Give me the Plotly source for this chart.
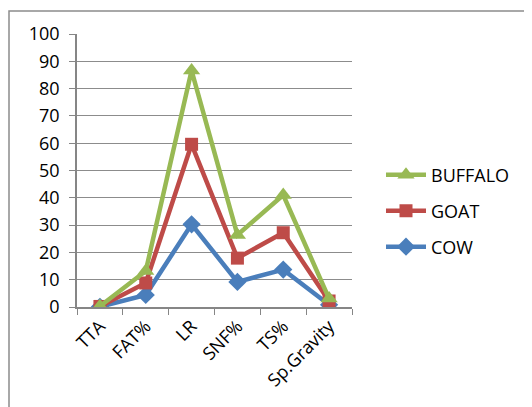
import plotly.graph_objects as go

categories = ["TTA", "FAT%", "LR", "SNF%", "TS%", "Sp.Gravity"]
cow = [0.1, 4.4, 30.3, 9.2, 13.7, 0.8]
goat = [0.2, 8.8, 59.6, 17.9, 27.2, 2.2]
buffalo = [0.3, 13.2, 86.6, 26.4, 41.0, 3.1]

series = [
    ("COW", cow, "#4A7EBB", "diamond", 14, "legend3"),
    ("GOAT", goat, "#BE4B48", "square", 13, "legend2"),
    ("BUFFALO", buffalo, "#98B954", "triangle-up", 15, "legend"),
]

fig = go.Figure()
for name, vals, color, sym, sz, lg in series:
    fig.add_trace(go.Scatter(
        x=categories, y=vals, name=name, mode="lines+markers",
        line=dict(color=color, width=4.5),
        marker=dict(symbol=sym, size=sz, color=color),
        legend=lg,
    ))

OFF = 8  # page body margin
W, H = 532 - OFF, 407 - OFF
L, R, T, B = 77 - OFF, 352 - OFF, 34 - OFF, 307 - OFF
pw, ph = R - L, B - T

def leg(yc):
    return dict(x=(381 - OFF - L) / pw, y=(B - (yc - OFF)) / ph,
                xanchor="left", yanchor="middle", bgcolor="rgba(0,0,0,0)",
                font=dict(size=18), itemwidth=40)

fig.update_layout(
    width=W, height=H,
    margin=dict(l=L, r=W - R, t=T, b=H - B, pad=0),
    paper_bgcolor="white", plot_bgcolor="white",
    font=dict(family="Open Sans, Liberation Sans, sans-serif", size=18, color="black"),
    showlegend=True,
    legend=leg(175), legend2=leg(211), legend3=leg(247),
    xaxis=dict(showgrid=False, showline=True, linecolor="#868686", linewidth=1.5,
               ticks="outside", tickson="boundaries", ticklen=6, tickcolor="#868686",
               tickangle=-45, tickfont=dict(size=18), range=[-0.5, 5.5]),
    yaxis=dict(range=[0, 100], dtick=10, showgrid=True, gridcolor="#8C8C8C", gridwidth=1,
               showline=True, linecolor="#868686", linewidth=1.5, zeroline=False,
               ticks="outside", ticklen=6, tickcolor="#868686", tickfont=dict(size=18),
               ticklabelstandoff=6),
    shapes=[dict(type="rect", xref="paper", yref="paper",
                 x0=(9 - OFF - L) / pw, x1=(560 - L) / pw,
                 y0=(B - 430) / ph, y1=(B - (11 - OFF)) / ph,
                 line=dict(color="#8C8C8C", width=1.5), fillcolor="rgba(0,0,0,0)", layer="below")],
)

fig.write_html("out.html")
